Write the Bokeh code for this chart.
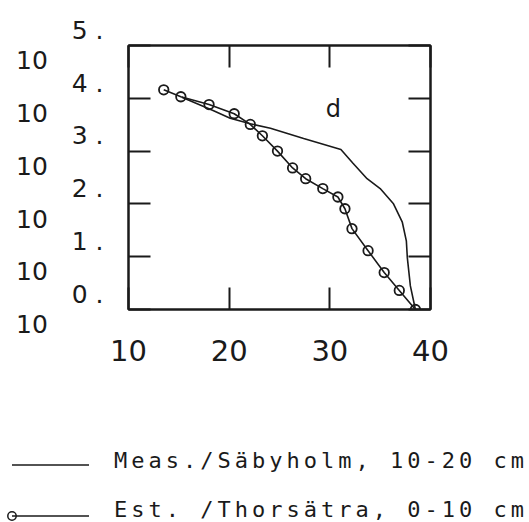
from bokeh.plotting import figure
from bokeh.models import Range1d, FixedTicker, LinearAxis, LogAxis, Div
from bokeh.layouts import column
from bokeh.embed import file_html
from bokeh.resources import INLINE
from bokeh.core.properties import value

# ---- data ----
est_x = [13.5, 15.2, 18.0, 20.5, 22.1, 23.3, 24.8, 26.3, 27.6, 29.3, 30.8, 31.5, 32.2, 33.8, 35.4, 36.9, 38.5]
est_y = [14500, 10700, 7600, 5100, 3200, 1950, 1000, 480, 300, 195, 135, 81, 34, 13, 5.0, 2.3, 1.0]

meas_x = [15.3, 18.4, 20.1, 22.1, 24.1, 27.4, 31.1, 32.3, 33.7, 35.0, 36.3, 37.2, 37.6, 37.7, 38.0, 38.5]
meas_y = [10500, 5900, 4200, 3300, 2700, 1740, 1070, 590, 300, 195, 102, 45, 20, 9.5, 2.8, 1.0]

x_ticks = [10, 20, 30, 40]
y_exponents = [0, 1, 2, 3, 4, 5]
y_ticks = [10 ** e for e in y_exponents]
panel_letter = "d"

legend_meas = "Meas./Säbyholm, 10-20 cm"
legend_est = "Est. /Thorsätra, 0-10 cm"

NB = "\u00a0"
FONT = "DejaVu Sans"
MONO = "DejaVu Sans Mono"
INK = "#1a1a1a"

W = 529
H_MAIN = 380
H_LEG = 522 - H_MAIN

p = figure(width=W, height=H_MAIN, x_range=Range1d(10, 40), y_range=Range1d(1, 1e5),
           y_axis_type="log", output_backend="svg", toolbar_location=None,
           x_axis_location=None, y_axis_location=None,
           min_border_left=128, min_border_right=99, min_border_top=45,
           min_border_bottom=H_MAIN - 309)
p.grid.visible = False
p.outline_line_color = INK
p.outline_line_width = 2
p.background_fill_color = "white"
p.border_fill_color = "white"

def style_axis(ax, show_labels=False):
    ax.major_tick_in = 22
    ax.major_tick_out = 0
    ax.minor_tick_line_color = None
    ax.axis_line_color = INK
    ax.axis_line_width = 2
    ax.major_tick_line_color = INK
    ax.major_tick_line_width = 2
    if not show_labels:
        ax.major_label_text_font_size = "0px"
        ax.major_label_text_color = None

xb = LinearAxis(ticker=FixedTicker(ticks=x_ticks))
style_axis(xb, show_labels=True)
xb.major_label_text_font = FONT
xb.major_label_text_font_size = "29px"
xb.major_label_text_color = INK
xb.major_label_standoff = 30
p.add_layout(xb, "below")

xt = LinearAxis(ticker=FixedTicker(ticks=x_ticks))
style_axis(xt)
p.add_layout(xt, "above")

# left axis: exponent "N." raised above the base "10"
yl = LogAxis(ticker=FixedTicker(ticks=y_ticks))
style_axis(yl, show_labels=True)
yl.major_label_text_font = FONT
yl.major_label_text_font_size = "25px"
yl.major_label_text_color = INK
yl.major_label_text_line_height = 1.05
yl.major_label_standoff = 25
yl.major_label_overrides = {t: f"{e}{NB}.\n10" + NB * 7 for t, e in zip(y_ticks, y_exponents)}
p.add_layout(yl, "left")

yr = LogAxis(ticker=FixedTicker(ticks=y_ticks))
style_axis(yr)
p.add_layout(yr, "right")

# series
p.line(meas_x, meas_y, line_color=INK, line_width=1.6)
p.line(est_x, est_y, line_color=INK, line_width=1.6)
p.scatter(est_x, est_y, marker="circle", size=9.5, fill_alpha=0, line_color=INK, line_width=1.8)

p.text(x=[30.36], y=[10 ** 3.79], text=[panel_letter], text_align="center", text_baseline="middle",
       text_font=value(FONT), text_font_size="24px", text_color=INK)

# ---- legend (below the plot) ----
txt_style = (f"style=\"font-family:'{MONO}',monospace;font-size:22px;"
             f"letter-spacing:4px;fill:{INK}\"")
svg = (
    f'<svg xmlns="http://www.w3.org/2000/svg" width="{W}" height="{H_LEG}" style="display:block">'
    f'<line x1="12" y1="85" x2="89" y2="85" stroke="{INK}" stroke-width="1.5"/>'
    f'<text x="114" y="88" {txt_style}>{legend_meas}</text>'
    f'<line x1="12" y1="136" x2="89" y2="136" stroke="{INK}" stroke-width="1.5"/>'
    f'<circle cx="12" cy="136" r="4.2" fill="none" stroke="{INK}" stroke-width="1.5"/>'
    f'<text x="114" y="137" {txt_style}>{legend_est}</text>'
    '</svg>'
)
leg = Div(text=svg, width=W, height=H_LEG, margin=0)

layout = column(p, leg, spacing=0)
open("out.html", "w").write(file_html(layout, INLINE))
